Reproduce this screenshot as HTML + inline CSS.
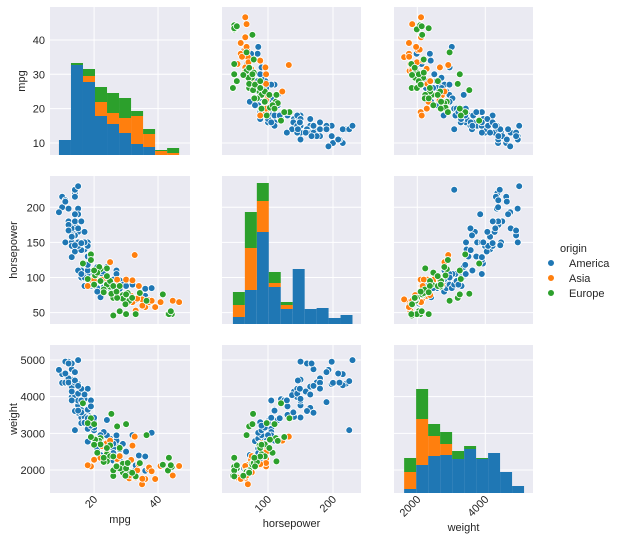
<!DOCTYPE html>
<html><head><meta charset="utf-8"><style>
body{margin:0;background:#fff;}
svg{display:block;font-family:"Liberation Sans",sans-serif;}
</style></head><body>
<svg id="chart" width="618" height="543" viewBox="0 0 618 543" xmlns="http://www.w3.org/2000/svg"></svg>
<script>
// ---- data ----
const originNames = ["America","Asia","Europe"];
const originColors = ["#1f77b4","#ff7f0e","#2ca02c"];
// [mpg, horsepower, weight]
const americaCars = [[18,130,3504],[15,165,3693],[18,150,3436],[16,150,3433],[17,140,3449],[15,198,4341],[14,220,4354],[14,215,4312],[14,225,4425],[15,190,3850],[15,170,3563],[14,160,3609],[15,150,3761],[14,225,3086],[22,95,2833],[18,97,2774],[21,85,2587],[10,215,4615],[10,200,4376],[11,210,4382],[9,193,4732],[13,165,4274],[12,180,4499],[13,150,4464],[14,175,4385],[13,170,4746],[12,198,4951],[13,160,4906],[16,100,3278],[17,88,3302],[19,100,3288],[18,105,3121],[22,72,2408],[20,100,3329],[17,100,3288],[19,88,3302],[23,86,2220],[28,90,2264],[25,87,2672],[15,230,4997],[16,140,4141],[11,150,4955],[12,180,4499],[13,145,3988],[14,137,4042],[15,150,3892],[16,110,3632],[18,110,3645],[21,80,2789],[26,79,2255],[20,110,3365],[25,85,2855],[24,100,2945],[27,88,2720],[31,75,2230],[32,90,2950],[34,88,2395],[28,96,2565],[26,92,2585],[36,84,2370],[38,85,3015],[27,110,2800],[29,90,2711],[24,115,3365],[23,105,3035],[17,120,3930],[16,139,3570],[19,125,3900],[12,175,4385],[11,208,4633],[13,158,4140],[18,145,4215],[14,180,4380],[15,145,4082],[17,150,3940],[20,90,3085],[20,95,3155],[22,98,2800],[30,63,2051],[33,68,2020],[37,63,2050],[27,105,2945],[26,97,2720],[36,74,1980],[21,115,2795],[20,105,3425],[15,110,3620],[16,180,4220],[17,165,4060],[19,130,3735],[18,118,3410],[14,146,4440],[13,129,3900],[16,105,3897],[12,167,4906],[16,149,4215],[15,170,4294],[14,190,4670],[19,90,3210],[24,88,2600],[22,100,2950],[30,88,2500],[28,84,2380],[33,70,2125],[26,85,2465]];
const asiaCars = [[24,95,2372],[27,88,2130],[31,65,1773],[35,69,1613],[24,97,2489],[19,97,2100],[20,97,2279],[18,88,2130],[29,75,1937],[32,65,1836],[31,67,1850],[33,53,1795],[36,58,1755],[32.7,132,2910],[44.6,67,1850],[46.6,65,2110],[23.9,90,2725],[22,97,2330],[27.2,97,2300],[29.5,68,2135],[30,97,2190],[33.5,70,1990],[35.1,60,1760],[37,68,2025],[37.2,65,2070],[39.1,58,1755],[40.8,65,2110],[31.6,74,2275],[28,75,2380],[22.4,97,2655],[32,96,2665],[30,75,2150],[34,88,2160],[25,122,2800],[38,67,1965]];
const europeCars = [[26,46,1835],[25,87,2672],[24,90,2430],[25,95,2375],[24,113,2234],[22,112,2868],[19,133,3410],[16.5,120,3820],[29,75,2171],[26,71,1990],[31,67,1950],[29,70,1937],[28,52,2045],[30,48,2045],[30.5,78,2190],[25.4,77,3530],[27.2,71,3190],[30,76,3250],[36.4,67,2950],[44.3,48,2085],[43.1,48,1985],[43.4,48,2335],[44,52,2130],[41.5,76,2144],[34.3,78,2188],[29.8,62,1845],[21.6,115,2795],[20.3,103,2830],[21,107,2472],[18,98,3280],[20,110,3250],[23,83,2220],[27,80,2100],[26,88,2370],[19,125,2900],[22,95,2700],[24,102,2600],[33,48,1825],[31.9,71,1925],[28,88,2605],[23,79,2335],[20,90,2690]];
const mpgBins = [9,46.6];
const mpgHistAmerica = [15,90,73,39,31,22,11,8,0,0];
const mpgHistAsia = [0,0,6,14,11,15,28,13,4,2];
const mpgHistEurope = [0,2,7,15,20,20,5,5,1,5];
const hpBins = [46,230];
const hpHistAmerica = [7,34,92,37,15,55,15,16,6,9];
const hpHistAsia = [12,42,31,4,4,0,0,0,0,0];
const hpHistEurope = [13,36,18,11,3,0,0,0,0,0];
const wtBins = [1613,5140];
const wtHistAmerica = [4,28,37,38,34,44,34,40,21,7];
const wtHistAsia = [17,46,20,11,0,0,0,0,0,0];
const wtHistEurope = [14,30,12,12,8,3,1,0,0,0];
const mpgTicks = [10,20,30,40];
const mpgXTicks = [20,40];
const hpTicks = [50,100,150,200];
const hpXTicks = [100,200];
const wtTicks = [2000,3000,4000,5000];
const wtXTicks = [2000,4000];
const histMax = 148;

// ---- scales ----
function lin(d0,d1,r0,r1){return v=>r0+(v-d0)*(r1-r0)/(d1-d0);}
const cols=[[50,190],[222,361],[394,533]];
const rows=[[7,155],[176,324],[345,493]];
const xs=[lin(6.2,50,50,190),lin(29.2,243.1,222,361),lin(1315,5403,394,533)];
const ys=[lin(6.5,49.6,155,7),lin(33.9,244.5,324,176),lin(1373,5409,493,345)];
const varNames=["mpg","horsepower","weight"];
const yTicksAll=[mpgTicks,hpTicks,wtTicks];
const xTicksAll=[mpgXTicks,hpXTicks,wtXTicks];
const binsAll=[mpgBins,hpBins,wtBins];
const histAll=[[mpgHistAmerica,mpgHistAsia,mpgHistEurope],[hpHistAmerica,hpHistAsia,hpHistEurope],[wtHistAmerica,wtHistAsia,wtHistEurope]];
const carsAll=[americaCars,asiaCars,europeCars];

const NS="http://www.w3.org/2000/svg";
const svg=document.getElementById("chart");
function mk(tag,attrs,parent){const e=document.createElementNS(NS,tag);for(const k in attrs)e.setAttribute(k,attrs[k]);(parent||svg).appendChild(e);return e;}

for(let r=0;r<3;r++){for(let c=0;c<3;c++){
  const g=mk("g",{});
  
  
  const [x0,x1]=cols[c],[y0,y1]=rows[r];
  mk("rect",{x:x0,y:y0,width:x1-x0,height:y1-y0,fill:"#eaeaf2"},g);
  for(const t of yTicksAll[r]){const y=ys[r](t);mk("line",{x1:x0,x2:x1,y1:y,y2:y,stroke:"#fff","stroke-width":1},g);}
  for(const t of xTicksAll[c]){const x=xs[c](t);mk("line",{x1:x,x2:x,y1:y0,y2:y1,stroke:"#fff","stroke-width":1},g);}
  if(r===c){
    const [b0,b1]=binsAll[c];const n=histAll[c][0].length;const w=(b1-b0)/n;
    const base=new Array(n).fill(0);
    const hy=v=>y1-v*(y1-y0)/histMax;
    for(let s=0;s<3;s++){const arr=histAll[c][s];
      for(let i=0;i<n;i++){if(!arr[i])continue;
        const xa=xs[c](b0+i*w),xb=xs[c](b0+(i+1)*w);
        const rc=mk("rect",{x:xa,y:hy(base[i]+arr[i]),width:xb-xa,height:hy(base[i])-hy(base[i]+arr[i]),fill:originColors[s]},g);
        
        
        base[i]+=arr[i];}}
  } else {
    for(let s=0;s<3;s++){for(const car of carsAll[s]){
      const p=mk("circle",{cx:xs[c](car[c]),cy:ys[r](car[r]),r:3.4,fill:originColors[s],stroke:"#fff","stroke-width":0.8},g);
      
      
    }}
  }
}}
// y tick labels & titles
for(let r=0;r<3;r++){
  for(const t of yTicksAll[r]){const tx=mk("text",{x:45,y:ys[r](t)+4,"text-anchor":"end","font-size":"11",fill:"#262626"});tx.textContent=t;
    }
  const cy=(rows[r][0]+rows[r][1])/2;const lx=r===0?25:17;
  const tl=mk("text",{x:lx,y:cy,transform:`rotate(-90 ${lx} ${cy})`,"text-anchor":"middle","font-size":"11",fill:"#262626"});tl.textContent=varNames[r];
  
}
const xlabY=[523,527,531];
for(let c=0;c<3;c++){
  for(const t of xTicksAll[c]){const x=xs[c](t)+4,y=500;
    const tx=mk("text",{x:x,y:y,transform:`rotate(-45 ${x} ${y})`,"text-anchor":"end","font-size":"11",fill:"#262626"});tx.textContent=t;
    }
  const tl=mk("text",{x:(cols[c][0]+cols[c][1])/2,y:xlabY[c],"text-anchor":"middle","font-size":"11",fill:"#262626"});tl.textContent=varNames[c];
  
}
// legend
const lg=mk("g",{});


const lt=mk("text",{x:560,y:252,"font-size":"11",fill:"#262626"},lg);lt.textContent="origin";

for(let s=0;s<3;s++){const y=263+s*15;
  const ent=mk("g",{},lg);
  
  
  mk("circle",{cx:551,cy:y,r:3.4,fill:originColors[s],stroke:"#fff","stroke-width":0.8},ent);
  const t=mk("text",{x:569,y:y+4,"font-size":"11",fill:"#262626"},ent);t.textContent=originNames[s];}
</script>
</body></html>
